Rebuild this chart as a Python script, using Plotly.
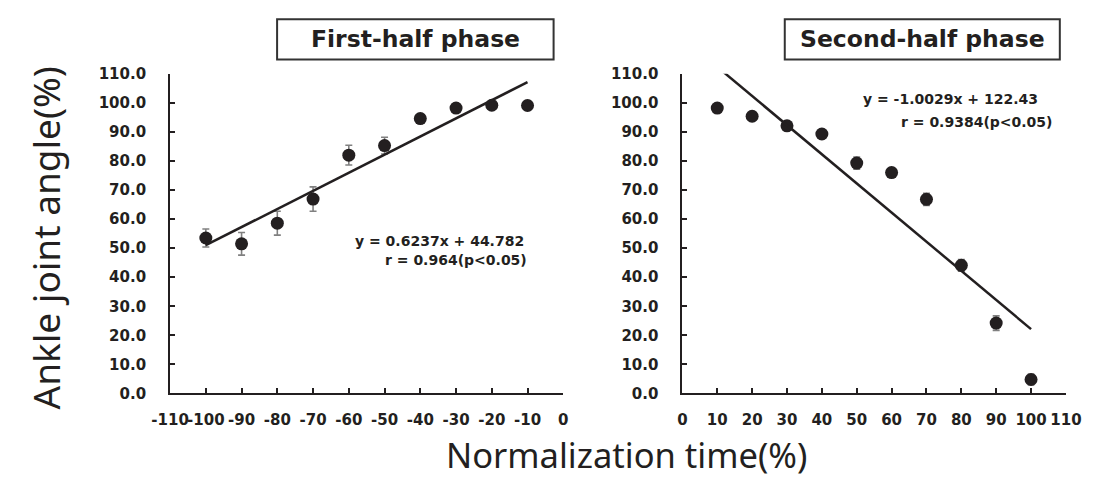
import plotly.graph_objects as go

# ---- data ----
first_t = [-100, -90, -80, -70, -60, -50, -40, -30, -20, -10]
first_y = [53.5, 51.5, 58.6, 66.9, 82.0, 85.3, 94.6, 98.2, 99.2, 99.1]
first_err = [3.1, 3.9, 4.1, 4.2, 3.4, 2.9, 0.8, 0.6, 0.5, 0.5]
first_slope, first_intercept = 0.6237, 44.782
first_eq = ["y = 0.6237x + 44.782", "r = 0.964(p<0.05)"]

second_t = [10, 20, 30, 40, 50, 60, 70, 80, 90, 100]
second_y = [98.2, 95.4, 92.1, 89.3, 79.3, 76.0, 66.8, 44.1, 24.2, 4.8]
second_err = [0.8, 0.7, 0.8, 0.8, 2.1, 1.3, 2.1, 2.0, 2.5, 1.8]
second_slope, second_intercept = -1.0029, 122.43
second_eq = ["y = -1.0029x + 122.43", "r = 0.9384(p<0.05)"]

left_ticks = [-110, -100, -90, -80, -70, -60, -50, -40, -30, -20, -10, 0]
left_ticktext = ["-110", "-100", "-90", "-80", "-70", "-60", "-50", "-40", "-30", "-20", "-10", "0"]
right_ticks = [0, 10, 20, 30, 40, 50, 60, 70, 80, 90, 100, 110]

titles = ["First-half phase", "Second-half phase"]
y_title = "Ankle joint angle(%)"
x_title = "Normalization time(%)"

W, H = 1110, 493
def px(x): return x / W
def py(y): return 1 - y / H

tick_font = dict(family="DejaVu Sans", size=15, color="#231f20", weight="bold")
ink = "#231f20"

fig = go.Figure()

fig.add_trace(go.Scatter(
    x=first_t, y=first_y, mode="markers",
    marker=dict(size=13, color=ink),
    error_y=dict(type="data", array=first_err, color="#808080", thickness=1.6, width=3.5),
    xaxis="x", yaxis="y", showlegend=False))
fl_x = [first_t[0], first_t[-1]]
fl_y = [first_slope * (t + 110) + first_intercept for t in fl_x]
fig.add_trace(go.Scatter(x=fl_x, y=fl_y, mode="lines", line=dict(color=ink, width=2.5),
                         xaxis="x", yaxis="y", showlegend=False))

fig.add_trace(go.Scatter(
    x=second_t, y=second_y, mode="markers",
    marker=dict(size=13, color=ink),
    error_y=dict(type="data", array=second_err, color="#808080", thickness=1.6, width=3.5),
    xaxis="x2", yaxis="y2", showlegend=False))
sl_x = [second_t[0], second_t[-1]]
sl_y = [second_slope * t + second_intercept for t in sl_x]
fig.add_trace(go.Scatter(x=sl_x, y=sl_y, mode="lines", line=dict(color=ink, width=2.5),
                         xaxis="x2", yaxis="y2", showlegend=False))

ydom = [py(399), py(67.3)]
axis_common = dict(showline=True, linecolor=ink, linewidth=2, ticks="inside", ticklen=5,
                   tickwidth=1.5, tickcolor=ink, showgrid=False, zeroline=False,
                   tickfont=tick_font)
xcommon = dict(tickangle=0, ticklabelstandoff=12, tickmode="array", **axis_common)
ycommon = dict(tickformat=".1f", ticklabelstandoff=19, dtick=10, tick0=0, **axis_common)

fig.update_layout(
    width=W, height=H, margin=dict(l=0, r=0, t=0, b=0),
    plot_bgcolor="white", paper_bgcolor="white",
    xaxis=dict(domain=[px(156), px(562)], range=[-110, 0], tickvals=left_ticks,
               ticktext=left_ticktext, anchor="y", **xcommon),
    yaxis=dict(domain=ydom, range=[0, 110], anchor="x", **ycommon),
    xaxis2=dict(domain=[px(685), px(1081)], range=[0, 110], tickvals=right_ticks,
                ticktext=[str(v) for v in right_ticks], anchor="y2", **xcommon),
    yaxis2=dict(domain=ydom, range=[0, 110], anchor="x2", **ycommon),
)

boxes = [(266.5, 552, 10.7, 52.3), (790.7, 1074.7, 10.7, 52.3)]
for (x0, x1, y0, y1), t in zip(boxes, titles):
    fig.add_shape(type="rect", xref="paper", yref="paper", x0=px(x0), x1=px(x1),
                  y0=py(y1), y1=py(y0), line=dict(color="#333333", width=2), fillcolor="white")
    fig.add_annotation(xref="paper", yref="paper", x=px((x0 + x1) / 2), y=py((y0 + y1) / 2),
                       text=t, showarrow=False, xanchor="center", yanchor="middle",
                       font=dict(family="DejaVu Sans", size=23.5, color=ink, weight="bold"))

eqs = [(first_eq, [(523, 241), (527, 260)]), (second_eq, [(1054, 93), (1070, 117)])]
for lines, pos in eqs:
    for txt, (x, y) in zip(lines, pos):
        fig.add_annotation(xref="paper", yref="paper", x=px(x), y=py(y), text=txt,
                           showarrow=False, xanchor="right", yanchor="middle",
                           font=dict(family="DejaVu Sans", size=14, color=ink, weight="bold"))

fig.add_annotation(xref="paper", yref="paper", x=px(27), y=py(238), text=y_title, textangle=-90,
                   showarrow=False, xanchor="center", yanchor="middle",
                   font=dict(family="Noto Sans", size=37, color=ink))
fig.add_annotation(xref="paper", yref="paper", x=px(627), y=py(462), text=x_title,
                   showarrow=False, xanchor="center", yanchor="middle",
                   font=dict(family="Noto Sans", size=34.5, color=ink))

fig.write_html("out.html")
